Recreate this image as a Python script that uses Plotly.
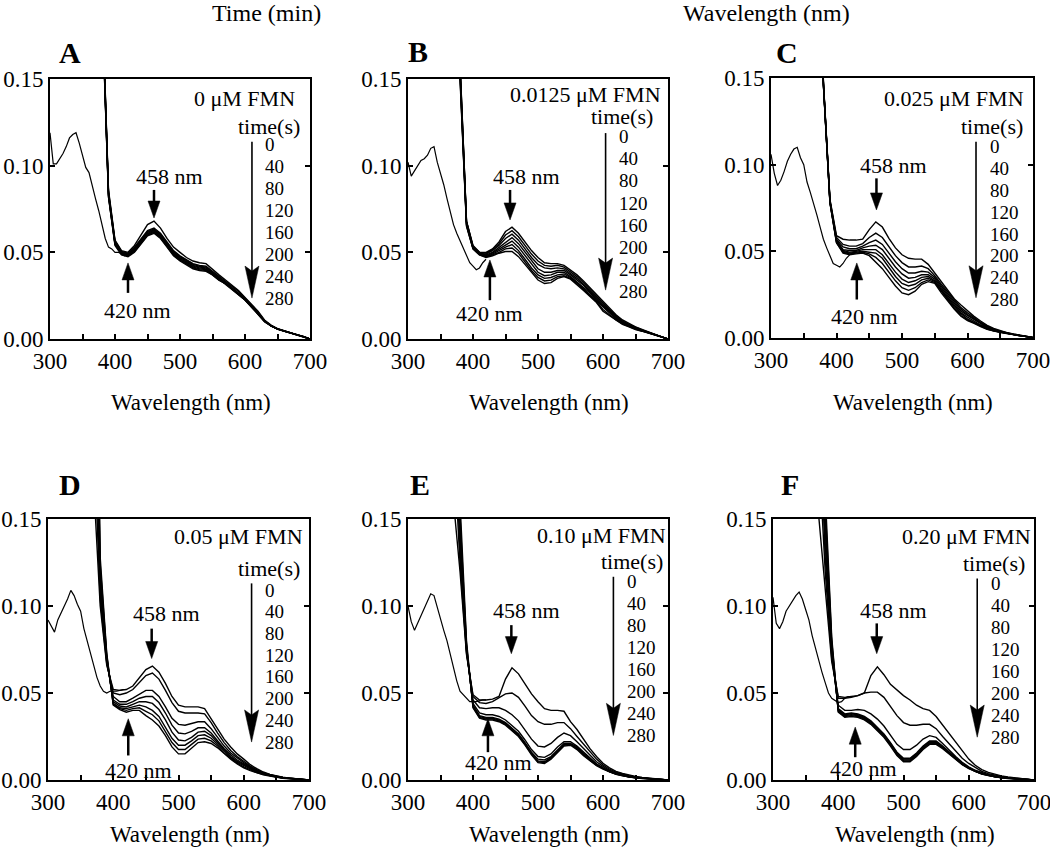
import plotly.graph_objects as go

# ---------------- data (absorbance in milli-absorbance units) ----------------
WL_REF = list(range(300, 421, 5))      # reference (thin) spectrum wavelengths, nm
WL_KIN = list(range(370, 701, 10))     # time-course spectra wavelengths, nm
TIMES = [0, 40, 80, 120, 160, 200, 240, 280]
PANEL_LETTERS = ["A", "B", "C", "D", "E", "F"]
FMN_LABELS = ["0 μM FMN", "0.0125 μM FMN", "0.025 μM FMN",
              "0.05 μM FMN", "0.10 μM FMN", "0.20 μM FMN"]
X_TICKS = [300, 350, 400, 450, 500, 550, 600, 650, 700]
X_TICK_TEXT = ["300", "", "400", "", "500", "", "600", "", "700"]
Y_TICKS = [0.0, 0.05, 0.10, 0.15]
Y_TICK_TEXT = ["0.00", "0.05", "0.10", "0.15"]

REF_A = [119, 101, 101, 104, 107, 111, 116, 118, 119, 113, 106, 99, 96, 88, 81, 74, 66, 58, 53, 52, 50, 50, 49, 48, 49]
REF_B = [102, 94, 97, 100, 103, 104, 106, 110, 111, 102, 96, 89, 81, 73, 66, 61, 57, 53, 48, 44, 42, 40, 41, 44, 46]
REF_C = [106, 95, 88, 91, 96, 102, 106, 109, 110, 104, 100, 90, 84, 78, 71, 64, 57, 52, 47, 43, 42, 41, 43, 46, 48]
REF_D = [92, 88, 85, 92, 96, 99, 104, 109, 106, 101, 97, 87, 80, 72, 65, 59, 54, 51, 50, 51, 51, 51, 51.5, 52, 52]
REF_E = [100, 91, 86, 90, 94, 98, 102, 107, 106, 99, 93, 86, 80, 72, 64, 57, 51, 49, 47, 45, 45, 45, 45.5, 46, 46]
REF_F = [105, 90, 87, 91, 97, 100, 103, 106, 108, 104, 98, 92, 83, 76, 68, 62, 56, 50, 47, 45.5, 44.5, 45, 47, 48, 48]

KIN_A = [
    [500, 200, 86, 57, 51, 50, 54, 60, 66, 68, 64, 58, 53, 50, 47, 45, 44, 43.5, 40, 37, 34, 31, 28, 24, 20, 16, 11, 8, 6, 4.8, 3.7, 2.6, 1.5, 0],
    [500, 199, 85, 56.5, 50.5, 49.5, 53, 58, 62.5, 64, 61, 56, 51, 48, 45.5, 43.5, 42.5, 42, 39, 36, 33.5, 30.5, 27.5, 23.5, 19.5, 15.5, 10.5, 7.8, 5.9, 4.7, 3.6, 2.5, 1.5, 0],
    [500, 198, 84, 56, 50, 49, 52.5, 57.5, 62, 63.5, 60.5, 55.5, 50.5, 47.5, 45, 43, 42, 41.5, 38.5, 35.5, 33, 30, 27, 23.5, 19.5, 15.5, 10.5, 7.7, 5.8, 4.6, 3.6, 2.5, 1.5, 0],
    [500, 197, 84, 55.5, 50, 49, 52, 57, 61.5, 63, 60, 55, 50, 47, 44.5, 42.5, 41.5, 41, 38, 35, 32.5, 29.5, 26.5, 23, 19, 15, 10.5, 7.6, 5.8, 4.6, 3.5, 2.5, 1.4, 0],
    [500, 196, 83, 55, 49.5, 48.5, 51.5, 56.5, 61, 62.5, 59.5, 54.5, 49.5, 46.5, 44, 42, 41, 40.5, 37.5, 34.5, 32.5, 29.5, 26.5, 23, 19, 15, 10.5, 7.6, 5.7, 4.5, 3.5, 2.5, 1.4, 0],
    [500, 195, 83, 55, 49, 48, 51, 56, 60.5, 62, 59, 54, 49, 46, 43.5, 41.5, 40.5, 40, 37.5, 34.5, 32, 29, 26, 22.5, 18.5, 14.5, 10.5, 7.5, 5.7, 4.5, 3.5, 2.5, 1.4, 0],
    [500, 194, 82, 54.5, 49, 48, 50.5, 55.5, 60, 61.5, 58.5, 53.5, 48.5, 45.5, 43, 41, 40, 39.5, 37, 34, 32, 29, 26, 22.5, 18.5, 14.5, 10, 7.5, 5.7, 4.5, 3.5, 2.5, 1.4, 0],
    [500, 193, 82, 54, 48.5, 47.5, 50, 55, 59.5, 61, 58, 53, 48, 45, 42.5, 40.5, 39.5, 39, 37, 34, 32, 29, 26, 22.5, 18.5, 14.5, 10, 7.5, 5.7, 4.5, 3.5, 2.5, 1.4, 0],
]
KIN_B = [
    [320, 160, 68, 54, 50, 50, 52, 56, 62, 64.5, 61, 56, 51, 47, 44, 43.5, 43.5, 42.5, 40, 37, 33.5, 29.5, 25.5, 21.5, 17.5, 14, 11, 9, 7, 5.5, 4, 2.5, 1.2, 0],
    [320, 159, 68, 53.5, 50, 49.5, 51.5, 55, 60, 62.5, 59, 54, 49, 45, 42.5, 42, 42.5, 41.5, 39, 36, 32.5, 28.5, 24.5, 21, 17, 13.5, 10.5, 8.5, 6.8, 5.3, 3.9, 2.5, 1.2, 0],
    [320, 158, 67.5, 53, 49.5, 49, 51, 54, 58, 60.5, 57, 52, 47, 43, 41, 40.5, 41, 40.5, 38, 35, 31.5, 28, 24, 20.5, 16.5, 13, 10, 8.2, 6.5, 5.1, 3.8, 2.5, 1.2, 0],
    [320, 156, 67, 53, 49.5, 48.5, 50, 53, 56, 58.5, 55, 50, 45, 40.5, 38.5, 38.5, 39.5, 39.5, 37, 34, 31, 27, 23, 19.5, 16, 12.5, 9.8, 8, 6.3, 5, 3.7, 2.5, 1.2, 0],
    [320, 155, 66.5, 52.5, 49, 48, 49.5, 52, 54.5, 56.5, 53, 48, 43, 38.5, 36.5, 37, 38.5, 38.5, 36, 33, 30, 26.5, 22.5, 19, 15.5, 12, 9.5, 7.8, 6.1, 4.8, 3.7, 2.5, 1.2, 0],
    [320, 153, 66, 52.5, 49, 47.5, 49, 51, 53, 54.5, 51, 46, 41, 37, 35, 35.5, 37, 37.5, 35.5, 32.5, 29, 25.5, 22, 18, 14.5, 11.5, 9, 7.5, 5.9, 4.7, 3.6, 2.5, 1.2, 0],
    [320, 152, 65.5, 52, 48.5, 47.5, 48.5, 50, 52, 52.5, 49.5, 44.5, 39.5, 35.5, 33.5, 34, 36, 36.5, 35, 32, 28.5, 25, 21.5, 17, 14, 11, 8.8, 7.2, 5.7, 4.6, 3.5, 2.5, 1.2, 0],
    [320, 150, 65, 52, 48.5, 47, 48, 49.5, 50.5, 50.5, 47.5, 43, 38, 34, 32, 32.5, 35, 36, 34.5, 31.5, 28, 24.5, 21, 16, 13.5, 10.5, 8.5, 7, 5.5, 4.5, 3.5, 2.5, 1.2, 0],
]
KIN_C = [
    [300, 148, 80, 59, 57, 56.5, 56.5, 57, 62.5, 67, 64, 57.5, 52, 48, 46, 45.5, 45.5, 42.5, 37.5, 32.5, 27.5, 22.5, 19, 15.5, 12.5, 9.8, 7.3, 5.5, 4.2, 3.1, 2.3, 1.6, 1, 0.3],
    [300, 147.5, 79.5, 58, 54, 53, 53, 54.5, 58, 60.5, 58, 52.5, 47.5, 43.5, 41, 41, 41.5, 40, 36, 31, 26.5, 21.5, 17.5, 14.5, 11.5, 9, 6.8, 5.1, 3.9, 2.9, 2.2, 1.5, 0.9, 0.3],
    [300, 147, 79, 57, 52.5, 51.5, 51.5, 53, 55, 56.5, 54, 49, 44, 40, 37.5, 37.5, 38.5, 38, 35, 30, 25.5, 20.5, 16.5, 13.5, 11, 8.5, 6.4, 4.8, 3.7, 2.8, 2.1, 1.4, 0.9, 0.3],
    [300, 147, 79, 56.5, 51, 50.5, 50.5, 52, 53, 53.5, 51, 46, 41, 37, 34.5, 35, 36.5, 36.5, 34, 29, 24.5, 19.5, 15.5, 13, 10.5, 8, 6, 4.6, 3.6, 2.7, 2, 1.4, 0.9, 0.2],
    [300, 146.5, 78.5, 56, 50.5, 49.5, 50, 51, 51, 51, 48, 43, 38, 34, 32, 33, 35, 35.5, 33, 28, 23.5, 18.5, 14.5, 12, 9.5, 7.5, 5.7, 4.4, 3.5, 2.7, 2, 1.4, 0.8, 0.2],
    [300, 146.5, 78.5, 55.5, 50, 49, 49.5, 50, 49.5, 49, 46, 41, 35.5, 31.5, 30, 31, 33.5, 34.5, 32.5, 27.5, 22.5, 18, 14, 11, 9, 7, 5.4, 4.2, 3.4, 2.6, 1.9, 1.3, 0.8, 0.2],
    [300, 146, 78, 55, 49.5, 48.5, 49, 49.5, 48.5, 46.5, 43, 38, 33, 29, 27.5, 29, 32, 33.5, 32, 27, 22, 17, 13, 10.5, 8.8, 6.8, 5.2, 4.1, 3.3, 2.5, 1.9, 1.3, 0.8, 0.2],
    [300, 146, 78, 55, 49, 48, 48.5, 49, 47.5, 44, 40, 35, 30, 26, 25, 27, 31, 32.5, 31.5, 26, 21, 16.5, 12.5, 10, 8.5, 6.5, 5, 4, 3.2, 2.5, 1.9, 1.3, 0.8, 0.2],
]
KIN_D = [
    [170, 100, 66, 52, 51.5, 52, 54, 59, 63.5, 65.5, 62, 55.5, 48, 43, 42, 42, 42, 41, 35, 29, 23.5, 19, 15, 12, 8.8, 6.5, 4.6, 3.2, 2.3, 1.6, 1.1, 0.7, 0.4, 0.1],
    [200, 104, 67, 50, 49, 50, 52, 56, 60, 61.5, 58, 51.5, 44.5, 39.5, 38.5, 38.5, 38.5, 38, 33, 27, 21.5, 17, 13.5, 10.8, 8, 5.9, 4.2, 3, 2.1, 1.5, 1, 0.6, 0.3, 0.1],
    [230, 108, 68, 48, 45, 45, 47, 49.5, 51.5, 51.5, 48, 42, 35.5, 32, 31.5, 32.5, 33.5, 33.5, 29.5, 24.5, 19.5, 15.5, 12.5, 10, 7.5, 5.5, 4, 2.9, 2, 1.4, 1, 0.6, 0.3, 0.1],
    [260, 112, 69, 46, 43.5, 43.5, 45, 47, 48, 48, 44.5, 38.5, 31.5, 27, 26.5, 28, 30, 30, 27, 22.5, 18, 14.5, 11.5, 9.3, 7, 5.2, 3.8, 2.7, 1.9, 1.3, 0.9, 0.6, 0.3, 0.1],
    [290, 116, 70, 45, 42.5, 42, 43.5, 45, 45, 44, 40.5, 34.5, 27.5, 23, 22.5, 24.5, 27.5, 28, 25.5, 21.5, 17, 13.5, 10.8, 8.7, 6.6, 4.9, 3.6, 2.6, 1.8, 1.2, 0.8, 0.5, 0.3, 0.1],
    [320, 120, 71, 44, 41.5, 41, 42, 43, 42, 40, 36.5, 30.5, 24, 20, 20, 22.5, 25.5, 26, 24, 20.5, 16.5, 13, 10.2, 8.2, 6.2, 4.6, 3.4, 2.5, 1.7, 1.2, 0.8, 0.5, 0.3, 0.1],
    [350, 124, 72, 43.5, 41, 40, 41, 41.5, 39.5, 37.5, 34, 28, 21.5, 17.5, 17.5, 20.5, 23.5, 24, 22.5, 19.5, 15.5, 12.5, 9.7, 7.6, 5.8, 4.3, 3.2, 2.4, 1.6, 1.1, 0.8, 0.5, 0.3, 0.1],
    [380, 128, 73, 43, 40.5, 39, 40, 40, 37, 34.5, 31, 25.5, 19, 15, 15, 18.5, 21.5, 22, 21, 18.5, 15, 12, 9.2, 7, 5.4, 4, 3, 2.2, 1.5, 1, 0.7, 0.5, 0.3, 0.1],
]
KIN_E = [
    [160, 120, 72, 49, 46, 46, 46.5, 48, 58, 64.5, 61, 55, 49.5, 45, 41, 40, 40, 39.5, 33.5, 29, 23.5, 18, 13.5, 9.6, 7, 5, 3.8, 2.8, 2, 1.4, 1, 0.6, 0.3, 0.1],
    [195, 125, 73, 48, 44.5, 44, 45, 47.5, 49.5, 50, 47.5, 42.5, 37, 33.5, 32, 32, 33, 33, 29.5, 25, 20.5, 16, 12, 8.7, 6.2, 4.5, 3.4, 2.5, 1.8, 1.3, 0.9, 0.6, 0.3, 0.1],
    [230, 130, 74, 46, 41.5, 41, 41.5, 41.5, 40, 37.5, 34, 29, 23.5, 19.5, 19, 21, 24.5, 27, 25.5, 22, 18, 14, 10.5, 7.8, 5.6, 4.1, 3, 2.2, 1.6, 1.1, 0.8, 0.5, 0.3, 0.1],
    [265, 135, 75, 44, 38.5, 37.5, 37.5, 36.5, 34.5, 31.5, 28, 23, 17.5, 13.5, 13, 15, 19, 22, 22, 19.5, 16, 12.5, 9.3, 7, 5, 3.7, 2.7, 2, 1.4, 1, 0.7, 0.5, 0.3, 0.1],
    [300, 140, 76, 43, 37, 36, 36, 35, 33, 30, 26.5, 21.5, 16, 12, 11.5, 13.5, 17.5, 21, 21, 19, 15.5, 12, 9, 6.8, 4.9, 3.6, 2.6, 1.9, 1.4, 1, 0.7, 0.5, 0.3, 0.1],
    [335, 145, 77, 42.5, 36.5, 35.5, 35.5, 34.5, 32.5, 29.5, 26, 21, 15.5, 11, 10.5, 13, 17, 20.5, 20.5, 18.5, 15, 11.5, 8.7, 6.6, 4.8, 3.5, 2.5, 1.8, 1.3, 0.9, 0.6, 0.4, 0.2, 0.1],
    [370, 152, 78, 42, 36, 35, 35, 34, 32, 29, 25.5, 20.5, 15, 10.5, 10, 12.5, 16.5, 20, 20.5, 18, 14.5, 11.2, 8.5, 6.4, 4.7, 3.4, 2.4, 1.7, 1.2, 0.9, 0.6, 0.4, 0.2, 0.1],
    [400, 160, 80, 41.5, 35.5, 34.5, 34.5, 33.5, 31.5, 28.5, 25, 20, 14.5, 10, 9.5, 12, 16, 19.5, 20, 17.5, 14, 11, 8.3, 6.2, 4.6, 3.3, 2.4, 1.7, 1.2, 0.9, 0.6, 0.4, 0.2, 0.1],
]
KIN_F = [
    [152, 112, 68, 48, 47.5, 48, 48.5, 50, 60, 65, 60.5, 55, 51.5, 48.5, 46, 43, 41, 40, 36.5, 31.5, 27, 21.5, 16.5, 12, 8.5, 6, 4.4, 3.2, 2.4, 1.7, 1.2, 0.8, 0.4, 0.1],
    [190, 120, 70, 47, 47, 47.5, 48.5, 50, 50.5, 50.5, 47.5, 42.5, 37, 33, 31.5, 31.5, 32, 32, 29.5, 25, 21, 16.5, 12.5, 9.5, 7, 5, 3.7, 2.7, 2, 1.4, 1, 0.6, 0.3, 0.1],
    [225, 128, 72, 43, 40, 40, 40.5, 40, 38, 35, 31, 26, 20.5, 17.5, 17.5, 20, 23.5, 25.5, 24.5, 21, 17, 13.5, 10.2, 7.6, 5.6, 4.1, 3, 2.2, 1.6, 1.1, 0.8, 0.5, 0.3, 0.1],
    [260, 136, 74, 41, 38, 38.5, 38, 36.5, 34, 30.5, 26.5, 21.5, 16, 12.5, 12.5, 15.5, 19.5, 22.5, 22.5, 19.5, 16, 12.5, 9.5, 7.1, 5.2, 3.8, 2.8, 2, 1.5, 1, 0.7, 0.5, 0.3, 0.1],
    [295, 144, 76, 40.5, 37.5, 38, 37.5, 36, 33.5, 30, 26, 21, 15.5, 12, 12, 15, 19, 22, 22, 19, 15.7, 12.2, 9.3, 7, 5.1, 3.7, 2.7, 2, 1.4, 1, 0.7, 0.5, 0.3, 0.1],
    [330, 152, 78, 40, 37, 37.5, 37, 35.5, 33, 29.5, 25.5, 20.5, 15, 11.5, 11.5, 14.5, 18.5, 21.5, 21.5, 18.7, 15.4, 12, 9.1, 6.9, 5, 3.6, 2.6, 1.9, 1.4, 1, 0.7, 0.5, 0.3, 0.1],
    [365, 158, 80, 39.5, 36.5, 37, 36.5, 35, 32.5, 29, 25, 20, 14.5, 11, 11, 14, 18, 21, 21, 18.4, 15.1, 11.8, 9, 6.8, 4.9, 3.5, 2.6, 1.9, 1.3, 0.9, 0.6, 0.4, 0.2, 0.1],
    [400, 165, 82, 39, 36, 36.5, 36, 34.5, 32, 28.5, 24.5, 19.5, 14, 10.5, 10.5, 13.5, 17.5, 20.5, 20.5, 18, 14.8, 11.5, 8.8, 6.6, 4.8, 3.4, 2.5, 1.8, 1.3, 0.9, 0.6, 0.4, 0.2, 0.1],
]

REF = [REF_A, REF_B, REF_C, REF_D, REF_E, REF_F]
KIN = [KIN_A, KIN_B, KIN_C, KIN_D, KIN_E, KIN_F]

# ---------------- layout / style ----------------
W, H = 1050, 854
FONT = "Liberation Serif, Times New Roman, serif"
BOX_PX = [(50, 310, 79, 339), (408, 668, 79, 339), (771, 1033, 78, 338),
          (48, 309, 519, 780), (408, 668, 519, 780), (773, 1034, 519, 780)]
LETTER_PX = [(70, 53), (418, 52), (787, 53), (70, 485), (420, 485), (790, 485)]
# annotation placements in data coordinates of each panel
LAB = [
    dict(t458=(484.6, 0.0935), a458=(460, 0.086, 0.0698), t420=(435, 0.0167), a420=(420, 0.0266, 0.0439),
         fmn=(680, 0.139), ts=(688, 0.1224), nums=(627.6, 0.112, 0.0234), big=(610.7, 0.1138, 0.0236)),
    dict(t458=(482.6, 0.0937), a458=(457, 0.086, 0.0687), t420=(426, 0.015), a420=(426, 0.0224, 0.0456),
         fmn=(692.7, 0.141), ts=(680, 0.1284), nums=(622, 0.1168, 0.0272), big=(604, 0.1188, 0.0282)),
    dict(t458=(486.8, 0.0998), a458=(461, 0.0921, 0.0739), t420=(443.5, 0.0126), a420=(431, 0.0222, 0.0433),
         fmn=(690, 0.1381), ts=(688, 0.1218), nums=(632, 0.1103, 0.0222), big=(613, 0.1132, 0.0232)),
    dict(t458=(481.9, 0.0957), a458=(458.9, 0.087, 0.0698), t420=(438, 0.0054), a420=(423, 0.0141, 0.0352),
         fmn=(694, 0.1398), ts=(689, 0.1216), nums=(630, 0.1091, 0.0218), big=(612, 0.113, 0.0218)),
    dict(t458=(482, 0.0976), a458=(459, 0.089, 0.0726), t420=(438.6, 0.0102), a420=(423, 0.016, 0.0352),
         fmn=(700, 0.1408), ts=(695, 0.1254), nums=(633.5, 0.1139, 0.0256), big=(616, 0.1168, 0.0256)),
    dict(t458=(484.5, 0.0976), a458=(459, 0.09, 0.0726), t420=(438.5, 0.0064), a420=(426, 0.0131, 0.0304),
         fmn=(698, 0.1398), ts=(690, 0.1245), nums=(631, 0.113, 0.0246), big=(613, 0.1158, 0.0246)),
]
DX = 400 / 260.0      # nm per pixel
DY = 0.15 / 260.0     # absorbance per pixel

fig = go.Figure()
layout = dict(width=W, height=H, autosize=False,
              margin=dict(l=0, r=0, t=0, b=0, pad=0, autoexpand=False),
              paper_bgcolor="white", plot_bgcolor="white", showlegend=False,
              font=dict(family=FONT, color="black", size=22))
shapes, annotations = [], []


def arrow(xr, yr, x, y_tail, y_tip, head_len, half_w, shaft_w, notch=0.0):
    sgn = 1 if y_tip > y_tail else -1
    base = y_tip - sgn * head_len * DY
    ny = base + sgn * notch * DY
    shapes.append(dict(type="line", xref=xr, yref=yr, x0=x, x1=x, y0=y_tail, y1=ny + sgn * 0.5 * DY,
                       line=dict(color="black", width=shaft_w)))
    path = (f"M {x},{y_tip} L {x - half_w * DX},{base} L {x},{ny} "
            f"L {x + half_w * DX},{base} Z")
    shapes.append(dict(type="path", xref=xr, yref=yr, path=path, fillcolor="black",
                       line=dict(color="black", width=0.5)))


for i in range(6):
    sfx = "" if i == 0 else str(i + 1)
    xr, yr = "x" + sfx, "y" + sfx
    x0, x1, yt, yb = BOX_PX[i]
    layout["xaxis" + sfx] = dict(
        domain=[x0 / W, x1 / W], anchor=yr, range=[300, 700], automargin=False,
        tickmode="array", tickvals=X_TICKS, ticktext=X_TICK_TEXT,
        ticks="inside", ticklen=5, tickwidth=2, tickcolor="black",
        showline=True, linecolor="black", linewidth=2, mirror=True,
        showgrid=False, zeroline=False, ticklabelstandoff=0, ticklabeloverflow="allow",
        tickfont=dict(family=FONT, size=23, color="black"))
    layout["yaxis" + sfx] = dict(
        domain=[1 - yb / H, 1 - yt / H], anchor=xr, range=[0, 0.15], automargin=False,
        tickmode="array", tickvals=Y_TICKS, ticktext=Y_TICK_TEXT,
        ticks="inside", ticklen=5, tickwidth=2, tickcolor="black",
        showline=True, linecolor="black", linewidth=2, mirror="ticks",
        showgrid=False, zeroline=False, ticklabelstandoff=0, ticklabeloverflow="allow",
        tickfont=dict(family=FONT, size=23, color="black"))

    # spectra
    fig.add_trace(go.Scatter(x=WL_REF, y=[v / 1000 for v in REF[i]], mode="lines",
                             line=dict(color="black", width=1.2), xaxis=xr, yaxis=yr,
                             hoverinfo="skip"))
    for k, t in enumerate(TIMES):
        fig.add_trace(go.Scatter(x=WL_KIN, y=[v / 1000 for v in KIN[i][k]], mode="lines",
                                 name=f"{t} s", line=dict(color="black", width=1.4),
                                 xaxis=xr, yaxis=yr))

    L = LAB[i]
    tf = dict(family=FONT, size=22, color="black")
    annotations.append(dict(x=L["t458"][0], y=L["t458"][1], xref=xr, yref=yr, text="458 nm",
                            showarrow=False, font=tf, xanchor="center", yanchor="middle"))
    annotations.append(dict(x=L["t420"][0], y=L["t420"][1], xref=xr, yref=yr, text="420 nm",
                            showarrow=False, font=tf, xanchor="center", yanchor="middle"))
    annotations.append(dict(x=L["fmn"][0], y=L["fmn"][1], xref=xr, yref=yr, text=FMN_LABELS[i],
                            showarrow=False, font=tf, xanchor="right", yanchor="middle"))
    annotations.append(dict(x=L["ts"][0], y=L["ts"][1], xref=xr, yref=yr, text="time(s)",
                            showarrow=False, font=tf, xanchor="right", yanchor="middle"))
    nx, ny0, ny1 = L["nums"]
    step = (ny0 - ny1) / (len(TIMES) - 1)
    for k, t in enumerate(TIMES):
        annotations.append(dict(x=nx, y=ny0 - k * step, xref=xr, yref=yr, text=str(t),
                                showarrow=False, xanchor="left", yanchor="middle",
                                font=dict(family=FONT, size=19, color="black")))
    ax, ayt, ayp = L["a458"]
    arrow(xr, yr, ax, ayt, ayp, 17, 6, 2.5)
    ax, ayt, ayp = L["a420"]
    arrow(xr, yr, ax, ayt, ayp, 17, 6, 2.5)
    bx, byt, byp = L["big"]
    arrow(xr, yr, bx, byt, byp, 32, 7, 1.6, notch=5)

    # panel letter and x-axis title
    lx, ly = LETTER_PX[i]
    annotations.append(dict(x=lx / W, y=1 - ly / H, xref="paper", yref="paper", text=f"<b>{PANEL_LETTERS[i]}</b>",
                            showarrow=False, xanchor="center", yanchor="middle",
                            font=dict(family=FONT, size=30, color="black")))
    ty = 402 if i < 3 else 834
    annotations.append(dict(x=((x0 + x1) / 2 + 11) / W, y=1 - ty / H, xref="paper", yref="paper",
                            text="Wavelength (nm)", showarrow=False, xanchor="center", yanchor="middle",
                            font=dict(family=FONT, size=23, color="black")))

# stray header labels at the top of the figure
annotations.append(dict(x=266 / W, y=1 - 13 / H, xref="paper", yref="paper", text="Time (min)",
                        showarrow=False, xanchor="center", yanchor="middle",
                        font=dict(family=FONT, size=24, color="black")))
annotations.append(dict(x=766 / W, y=1 - 13 / H, xref="paper", yref="paper", text="Wavelength (nm)",
                        showarrow=False, xanchor="center", yanchor="middle",
                        font=dict(family=FONT, size=24, color="black")))

layout["shapes"] = shapes
layout["annotations"] = annotations
fig.update_layout(**layout)
fig.write_html("out.html", config={"displayModeBar": False},
               post_script="document.body.style.margin='0px';")
